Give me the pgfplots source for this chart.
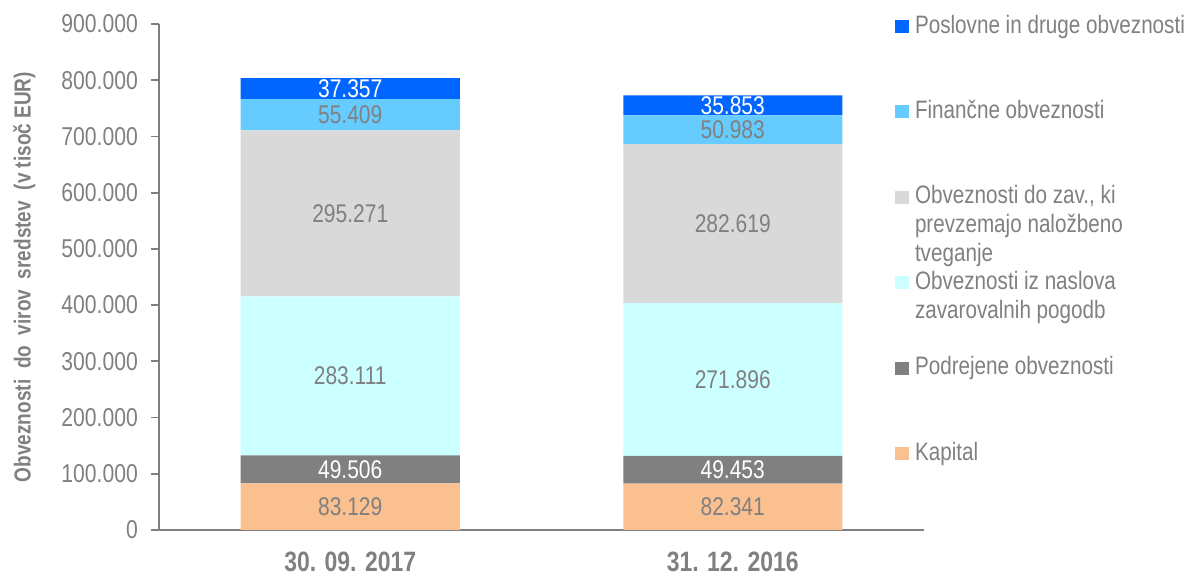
\documentclass[border=0pt]{standalone}
\usepackage{pgfplots}
\pgfplotsset{compat=1.18}
\usepackage{fontspec}
\setmainfont{Liberation Sans}[FakeStretch=0.82]
\definecolor{txtgray}{HTML}{808080}
\definecolor{cPos}{HTML}{0066FF}
\definecolor{cFin}{HTML}{66CCFF}
\definecolor{cZav}{HTML}{D9D9D9}
\definecolor{cNas}{HTML}{CCFFFF}
\definecolor{cPod}{HTML}{808080}
\definecolor{cKap}{HTML}{FAC090}
\newcommand\leg[1]{\parbox[t]{170pt}{#1}}
\begin{document}
\begin{tikzpicture}
\path[use as bounding box] (-79.5pt,-23.5pt) rectangle (515pt,265pt);
\begin{axis}[
  at={(0,0)}, anchor=south west,
  scale only axis, width=382.5pt, height=253pt,
  xmin=-0.5, xmax=1.5, ymin=0, ymax=900,
  ybar stacked, bar width=109.5pt,
  axis x line*=bottom, axis y line*=left,
  axis line style={draw=txtgray, line width=0.9pt},
  xtick={0,1}, xticklabels={30. 09. 2017,31. 12. 2016},
  x tick style={draw=none},
  x tick label style={font=\bfseries\fontsize{14}{16}\selectfont, text=txtgray, anchor=base, inner sep=0pt, yshift=-17pt},
  ytick={0,100,...,900},
  yticklabels={0,100.000,200.000,300.000,400.000,500.000,600.000,700.000,800.000,900.000},
  y tick style={draw=txtgray, line width=0.9pt},
  tick align=outside, major tick length=4pt,
  y tick label style={font=\fontsize{12.9}{14}\selectfont, text=txtgray, xshift=-3pt},
  ylabel={Obveznosti\ \ do\ \ virov\ \ sredstev\ \ (v tisoč EUR)},
  ylabel style={font=\bfseries\fontsize{11.6}{13}\selectfont, text=txtgray, at={(axis description cs:-0.176,0.5)}, anchor=center},
  nodes near coords={\pgfmathprintnumber[fixed,fixed zerofill,precision=3]{\pgfplotspointmeta}},
  nodes near coords align={center},
  every node near coord/.append style={font=\fontsize{12.8}{14}\selectfont, anchor=center},
  /pgf/number format/assume math mode=true,
  reverse legend,
  legend cell align=left,
  legend image code/.code={\fill[#1] (0pt,0pt) rectangle (7pt,6.5pt);},
  legend style={at={(0.9621,1.0138)}, anchor=north west, draw=none, fill=none,
    inner sep=0pt, outer sep=0pt, row sep=0pt, column sep=3pt,
    font=\fontsize{12.6}{14.5}\selectfont,
    nodes={inner sep=0pt, outer sep=0pt, text=txtgray, anchor=base west, text height=8pt, text depth=34.7pt}},
]
\addplot[fill=cKap, draw=none, every node near coord/.append style={text=txtgray}] coordinates {(0,83.129) (1,82.341)};
\addlegendentry{\leg{Kapital}}
\addplot[fill=cPod, draw=none, every node near coord/.append style={text=white}] coordinates {(0,49.506) (1,49.453)};
\addlegendentry{\leg{Podrejene obveznosti}}
\addplot[fill=cNas, draw=none, every node near coord/.append style={text=txtgray}] coordinates {(0,283.111) (1,271.896)};
\addlegendentry{\leg{Obveznosti iz naslova\\zavarovalnih pogodb}}
\addplot[fill=cZav, draw=none, every node near coord/.append style={text=txtgray}] coordinates {(0,295.271) (1,282.619)};
\addlegendentry{\leg{Obveznosti do zav., ki\\prevzemajo naložbeno\\tveganje}}
\addplot[fill=cFin, draw=none, every node near coord/.append style={text=txtgray}] coordinates {(0,55.409) (1,50.983)};
\addlegendentry{\leg{Finančne obveznosti}}
\addplot[fill=cPos, draw=none, every node near coord/.append style={text=white}] coordinates {(0,37.357) (1,35.853)};
\addlegendentry{\leg{Poslovne in druge obveznosti}}
\addplot[fill=none, draw=none, forget plot, point meta=explicit symbolic,
  nodes near coords={\pgfplotspointmeta},
  every node near coord/.style={font=\bfseries\fontsize{13.75}{15}\selectfont, text=txtgray, anchor=base, yshift=11.25pt}]
  coordinates {(0,0) [803.783] (1,0) [773.146]};
\end{axis}
\end{tikzpicture}
\end{document}
